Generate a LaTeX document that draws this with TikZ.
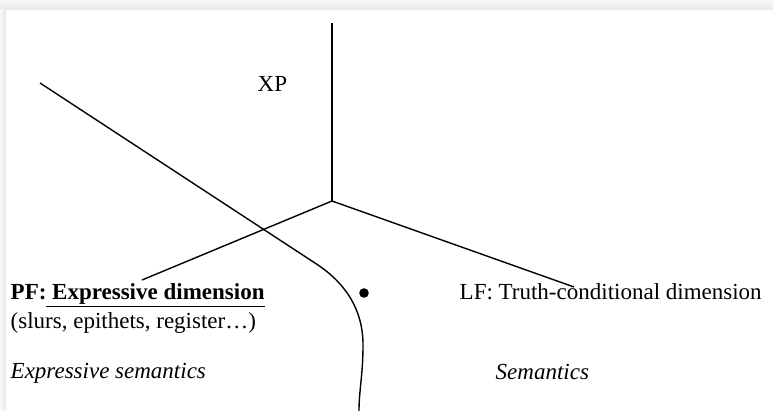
\documentclass[tikz,border=0pt]{standalone}
\usepackage{fontspec}
\setmainfont{Liberation Serif}
\usetikzlibrary{positioning}

\begin{document}
\begin{tikzpicture}[
    x=1pt,y=-1pt,
    line width=1.4pt,
    every node/.style={font=\fontsize{23}{27}\selectfont,inner sep=0pt,anchor=base west}
]
\useasboundingbox (0,0) rectangle (773,411);

% screenshot frame
\shade[top color=gray!5,bottom color=gray!18] (0,0) rectangle (773,10);
\shade[left color=gray!5,right color=gray!18] (0,10) rectangle (6,411);

% tree
\coordinate (top)  at (332,23);
\coordinate (junc) at (332,201);
\coordinate (pfend) at (142,280);
\coordinate (lfend) at (574,287);
\draw (top) -- (junc);
\draw (junc) -- (pfend);
\draw (junc) -- (lfend);

% XP label
\node (xp) at (257,92) {XP};

% boundary curve
\coordinate (cstart) at (40,83);
\coordinate (cbend)  at (318,265);
\coordinate (cmid)   at (363,345);
\coordinate (cend)   at (359,411);
\draw (cstart) -- (cbend) .. controls (346,284) and (363,310) .. (cmid)
      .. controls (363,375) and (359,390) .. (cend);

% point
\fill (364,293) circle (4.8) coordinate (pt);

% PF side
\node (pf)  at (10,300) {\textbf{PF:\underline{\ Expressive dimension}}};
\node (ex)  at (10,328) {(slurs, epithets, register…)};
\node (exs) at (10,378) {\textit{Expressive semantics}};

% LF side
\node (lf)  at (459,300) {LF: Truth-conditional dimension};
\node (sem) at (495,379) {\textit{Semantics}};

\end{tikzpicture}
\end{document}
